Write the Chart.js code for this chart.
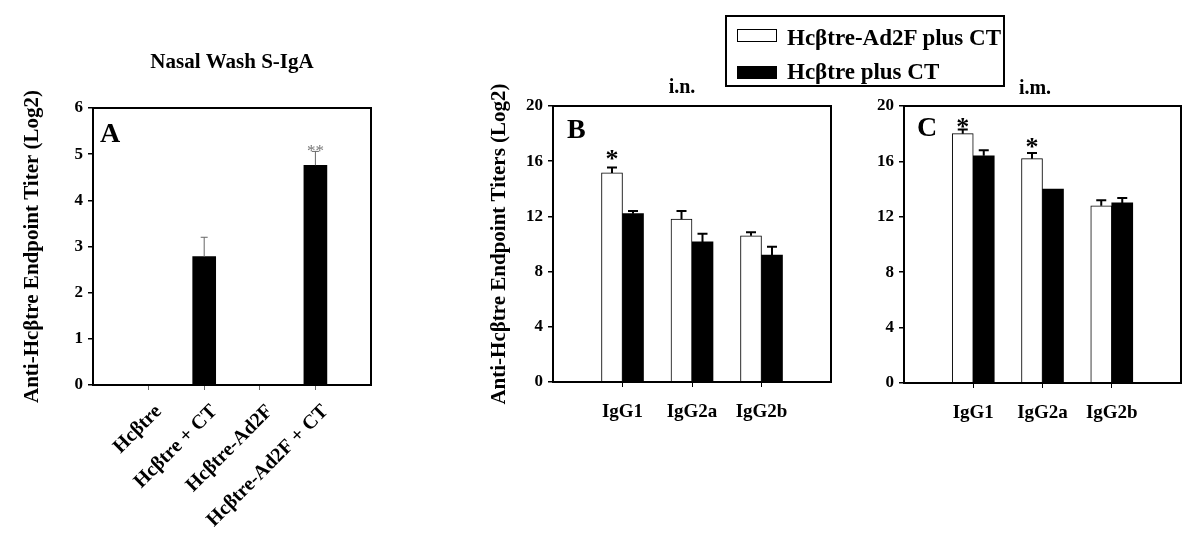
<!DOCTYPE html>
<html>
<head>
<meta charset="utf-8">
<script src="https://cdn.jsdelivr.net/npm/chart.js@4.4.1/dist/chart.umd.min.js"></script>
<style>
  body { margin: 0; background: #fff; width: 1200px; height: 543px; position: relative; overflow: hidden; font-family: "Liberation Serif", serif; }
  canvas { position: absolute; top: 0; }
  #legend { position: absolute; left: 725px; top: 15px; width: 276px; height: 68px; border: 2px solid #000; font-weight: bold; font-size: 23px; }
  #legend .sw { position: absolute; left: 10px; width: 40px; height: 13px; box-sizing: border-box; border: 1.5px solid #000; }
  #legend .txt { position: absolute; left: 60px; height: 24px; line-height: 24px; white-space: nowrap; }
</style>
</head>
<body>
<canvas id="panelA" width="420" height="543" style="left:0px"></canvas>
<canvas id="panelB" width="440" height="543" style="left:420px"></canvas>
<canvas id="panelC" width="340" height="543" style="left:860px"></canvas>
<div id="legend">
  <span class="sw" style="top:12px;background:#fff"></span><span class="txt" style="top:9px">Hcβtre-Ad2F plus CT</span>
  <span class="sw" style="top:49px;background:#000"></span><span class="txt" style="top:43px">Hcβtre plus CT</span>
</div>
<script>
const FONT = "'Liberation Serif', 'Times New Roman', serif";

// Panel A: nasal wash S-IgA
const catsA = ["Hcβtre", "Hcβtre + CT", "Hcβtre-Ad2F", "Hcβtre-Ad2F + CT"];
const valsA = [null, 2.78, null, 4.76];
const errA = [null, 0.42, null, 0.3];

// Panels B (i.n.) and C (i.m.)
const catsIg = ["IgG1", "IgG2a", "IgG2b"];
const inAd2f = [15.15, 11.8, 10.6];
const inAd2fErr = [0.4, 0.6, 0.25];
const inPlain = [12.2, 10.15, 9.2];
const inPlainErr = [0.2, 0.6, 0.6];
const imAd2f = [18.0, 16.2, 12.8];
const imAd2fErr = [0.3, 0.4, 0.4];
const imPlain = [16.4, 14.0, 13.0];
const imPlainErr = [0.4, 0, 0.35];

function toXY(vals) {
  return vals.map((v, i) => ({ x: i + 1, y: v }));
}

const framePlugin = {
  id: "frame",
  afterDatasetsDraw(chart) {
    const a = chart.chartArea;
    const ctx = chart.ctx;
    ctx.save();
    ctx.strokeStyle = "#000";
    ctx.lineWidth = 2;
    ctx.strokeRect(a.left, a.top, a.right - a.left, a.bottom - a.top);
    ctx.restore();
  },
};

const errorBarPlugin = {
  id: "errorBars",
  afterDatasetsDraw(chart, args, opts) {
    const errs = opts.errs || [];
    const ys = chart.scales.y;
    const ctx = chart.ctx;
    ctx.save();
    ctx.strokeStyle = opts.color || "#000";
    ctx.lineWidth = opts.width || 1;
    errs.forEach((list, d) => {
      const meta = chart.getDatasetMeta(d);
      const data = chart.data.datasets[d].data;
      list.forEach((e, i) => {
        if (!e || data[i].y == null) return;
        const el = meta.data[i];
        const top = ys.getPixelForValue(data[i].y + e);
        ctx.beginPath();
        ctx.moveTo(el.x, el.y);
        ctx.lineTo(el.x, top);
        ctx.moveTo(el.x - opts.cap / 2, top);
        ctx.lineTo(el.x + opts.cap / 2, top);
        ctx.stroke();
      });
    });
    ctx.restore();
  },
};

const starPlugin = {
  id: "stars",
  afterDatasetsDraw(chart, args, opts) {
    const ys = chart.scales.y;
    const ctx = chart.ctx;
    const errs = chart.options.plugins.errorBars.errs;
    ctx.save();
    ctx.textAlign = "center";
    ctx.textBaseline = "alphabetic";
    (opts.items || []).forEach((s) => {
      const el = chart.getDatasetMeta(s.ds).data[s.i];
      const v = chart.data.datasets[s.ds].data[s.i].y + (errs[s.ds][s.i] || 0);
      ctx.fillStyle = s.color || "#000";
      ctx.font = s.font;
      ctx.fillText(s.text, el.x, ys.getPixelForValue(v) + s.dy);
    });
    ctx.restore();
  },
};

const textPlugin = {
  id: "texts",
  afterDraw(chart, args, opts) {
    const a = chart.chartArea;
    const ctx = chart.ctx;
    ctx.save();
    ctx.fillStyle = "#000";
    (opts.items || []).forEach((t) => {
      ctx.font = t.font;
      ctx.textAlign = t.align || "left";
      ctx.textBaseline = t.base || "alphabetic";
      const x = t.rel ? a.left + t.x : t.x;
      const y = t.rel ? a.top + t.y : t.y;
      ctx.fillText(t.text, x, y);
    });
    ctx.restore();
  },
};

function makePanel(id, cfg) {
  const canvas = document.getElementById(id);
  return new Chart(canvas, {
    type: "bar",
    data: { datasets: cfg.datasets },
    plugins: [framePlugin, errorBarPlugin, starPlugin, textPlugin],
    options: {
      responsive: false,
      animation: false,
      devicePixelRatio: 1,
      layout: { padding: { top: cfg.top, right: cfg.right, bottom: 0, left: 0 } },
      plugins: {
        legend: { display: false },
        tooltip: { enabled: false },
        errorBars: cfg.errorBars,
        stars: { items: cfg.stars },
        texts: { items: cfg.texts },
      },
      scales: {
        x: {
          type: "linear",
          min: 0,
          max: cfg.xMax,
          offset: false,
          border: { display: false },
          grid: {
            offset: false,
            drawOnChartArea: false,
            tickLength: 5,
            lineWidth: 1,
            color: (c) => (c.tick && c.tick.value > 0 && c.tick.value < cfg.xMax ? cfg.xTickColor : "rgba(0,0,0,0)"),
          },
          ticks: {
            stepSize: 1,
            autoSkip: false,
            maxRotation: cfg.rot,
            minRotation: cfg.rot,
            padding: cfg.xPad,
            labelOffset: cfg.xShift,
            color: "#000",
            font: { family: FONT, size: cfg.xFont, weight: "bold" },
            callback: (v) => cfg.cats[v - 1] || "",
          },
          afterFit: (s) => { s.height = 543 - cfg.bottom; },
        },
        y: {
          min: 0,
          max: cfg.yMax,
          border: { display: false },
          grid: { drawOnChartArea: false, tickLength: 5, color: "#000", lineWidth: 1.5 },
          ticks: {
            stepSize: cfg.yStep,
            padding: 5,
            color: "#000",
            font: { family: FONT, size: 17, weight: "bold" },
          },
          title: {
            display: !!cfg.yTitle,
            text: cfg.yTitle || "",
            color: "#000",
            font: { family: FONT, size: 21, weight: "bold" },
            padding: { top: cfg.yTitlePad, bottom: 0 },
          },
          afterFit: (s) => { s.width = cfg.yWidth; },
        },
      },
    },
  });
}

makePanel("panelA", {
  cats: catsA,
  xMax: 5,
  yMax: 6,
  yStep: 1,
  top: 108,
  bottom: 385,
  right: 420 - 371,
  yWidth: 93,
  rot: 45,
  xPad: 10,
  xShift: 10,
  xFont: 20,
  xTickColor: "#666",
  yTitle: "Anti-Hcβtre Endpoint Titer (Log2)",
  yTitlePad: 20,
  datasets: [
    { data: toXY(valsA), backgroundColor: "#000", borderWidth: 0, barThickness: 23 },
  ],
  errorBars: { errs: [errA], color: "#666", width: 1, cap: 7 },
  stars: [{ ds: 0, i: 3, text: "**", dy: 5, color: "#777", font: "17px " + FONT }],
  texts: [
    { text: "A", x: 7, y: 34, rel: true, font: "bold 28px " + FONT },
    { text: "Nasal Wash S-IgA", x: 232, y: 63, align: "center", base: "middle", font: "bold 21px " + FONT },
  ],
});

makePanel("panelB", {
  cats: catsIg,
  xMax: 4,
  yMax: 20,
  yStep: 4,
  top: 106,
  bottom: 382,
  right: 440 - (831 - 420),
  yWidth: 553 - 420,
  rot: 0,
  xPad: 14,
  xShift: 0,
  xFont: 19,
  xTickColor: "#000",
  yTitle: "Anti-Hcβtre Endpoint Titers (Log2)",
  yTitlePad: 67,
  datasets: [
    { data: toXY(inAd2f), backgroundColor: "#fff", borderColor: "#000", borderWidth: 1, barThickness: 21 },
    { data: toXY(inPlain), backgroundColor: "#000", borderWidth: 0, barThickness: 21 },
  ],
  errorBars: { errs: [inAd2fErr, inPlainErr], color: "#000", width: 2, cap: 10 },
  stars: [{ ds: 0, i: 0, text: "*", dy: 0, font: "bold 26px " + FONT }],
  texts: [
    { text: "B", x: 14, y: 32, rel: true, font: "bold 28px " + FONT },
    { text: "i.n.", x: 682 - 420, y: 88, align: "center", base: "middle", font: "bold 20px " + FONT },
  ],
});

makePanel("panelC", {
  cats: catsIg,
  xMax: 4,
  yMax: 20,
  yStep: 4,
  top: 106,
  bottom: 383,
  right: 340 - (1181 - 860),
  yWidth: 904 - 860,
  rot: 0,
  xPad: 14,
  xShift: 0,
  xFont: 19,
  xTickColor: "#000",
  yTitle: null,
  yTitlePad: 0,
  datasets: [
    { data: toXY(imAd2f), backgroundColor: "#fff", borderColor: "#000", borderWidth: 1, barThickness: 21 },
    { data: toXY(imPlain), backgroundColor: "#000", borderWidth: 0, barThickness: 21 },
  ],
  errorBars: { errs: [imAd2fErr, imPlainErr], color: "#000", width: 2, cap: 10 },
  stars: [
    { ds: 0, i: 0, text: "*", dy: 5, font: "bold 26px " + FONT },
    { ds: 0, i: 1, text: "*", dy: 2, font: "bold 26px " + FONT },
  ],
  texts: [
    { text: "C", x: 13, y: 30, rel: true, font: "bold 28px " + FONT },
    { text: "i.m.", x: 1035 - 860, y: 89, align: "center", base: "middle", font: "bold 20px " + FONT },
  ],
});
</script>
</body>
</html>
